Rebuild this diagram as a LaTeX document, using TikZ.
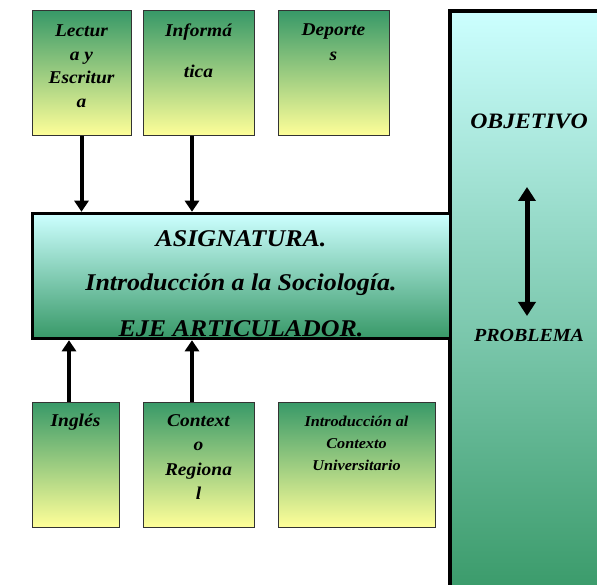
\documentclass[tikz,border=0pt]{standalone}
\usepackage{fontspec}
\setmainfont[FakeStretch=1.08]{Liberation Serif}
\usetikzlibrary{arrows.meta}
\definecolor{dgreen}{RGB}{56,153,104}
\definecolor{pyellow}{RGB}{255,255,153}
\definecolor{pcyan}{RGB}{204,255,255}
\tikzset{
  smallbox/.style={draw=black!80, line width=1pt, top color=dgreen, bottom color=pyellow, inner sep=0pt},
  boxtxt/.style={font=\fontsize{18}{24.5}\selectfont\bfseries\itshape, align=center, anchor=north, inner sep=0pt},
  smalltxt/.style={font=\fontsize{15}{22}\selectfont\bfseries\itshape, align=center, anchor=north, inner sep=0pt},
  maintxt/.style={font=\fontsize{24}{26}\selectfont\bfseries\itshape, inner sep=0pt, anchor=base},
  thickarrow/.style={line width=4pt, -{Triangle[width=14pt,length=11pt]}},
  dblarrow/.style={line width=5pt, {Triangle[width=17pt,length=14pt]}-{Triangle[width=17pt,length=14pt]}},
}
\begin{document}
\begin{tikzpicture}[x=1pt,y=-1pt]
\useasboundingbox (0,0) rectangle (597,585);
\clip (0,0) rectangle (597,585);
% right panel
\path[top color=pcyan, bottom color=dgreen] (450,11) rectangle (620,600);
\draw[line width=3.5pt] (620,11) -- (450,11) -- (450,600);
\node[font=\fontsize{22}{24}\selectfont\bfseries\itshape, inner sep=0pt] (obj) at (529,121) {OBJETIVO};
\node[font=\fontsize{18.5}{20}\selectfont\bfseries\itshape, inner sep=0pt] (prob) at (529,335) {PROBLEMA};
\coordinate (dtop) at (527,187);
\coordinate (dbot) at (527,316);
\draw[dblarrow] (dtop) -- (dbot);
% main box
\path[top color=pcyan, bottom color=dgreen] (33,214) rectangle (450,338);
\node[maintxt] (m1) at (241,247) {ASIGNATURA.};
\node[maintxt] (m2) at (241,291) {Introducción a la Sociología.};
\node[maintxt] (m3) at (241,337) {EJE ARTICULADOR.};
\node[draw, line width=3.5pt, minimum width=418pt, minimum height=125pt, inner sep=0pt] (main) at (241.5,276) {};
% top boxes
\node[smallbox, minimum width=99pt, minimum height=125pt] (lect) at (81.5,73.5) {};
\node[smallbox, minimum width=111pt, minimum height=125pt] (info) at (198.5,73.5) {};
\node[smallbox, minimum width=111pt, minimum height=125pt] (dep) at (333.5,73.5) {};
\node[boxtxt, font=\fontsize{18}{23.5}\selectfont\bfseries\itshape] (lectt) at (81.5,25) {Lectur\\a y\\Escritur\\a};
\node[boxtxt] (infot) at (198.5,24) {Informá\\[16pt]tica};
\node[boxtxt] (dept) at (333.5,24) {Deporte\\s};
% bottom boxes
\node[smallbox, minimum width=87pt, minimum height=125pt] (ing) at (75.5,464.5) {};
\node[smallbox, minimum width=111pt, minimum height=125pt] (ctx) at (198.5,464.5) {};
\node[smallbox, minimum width=157pt, minimum height=125pt] (intro) at (356.5,464.5) {};
\node[boxtxt] (ingt) at (75.5,414) {Inglés};
\node[boxtxt] (ctxt) at (198.5,414) {Context\\o\\Regiona\\l};
\node[smalltxt] (introt) at (356.5,416) {Introducción al\\Contexto\\Universitario};
% arrows
\draw[thickarrow] (lect.south) -- (lect.south |- main.north);
\draw[thickarrow] ([xshift=-6.5pt]info.south) -- ([xshift=-6.5pt]info.south |- main.north);
\draw[thickarrow] ([xshift=-6.5pt]ing.north) -- ([xshift=-6.5pt]ing.north |- main.south);
\draw[thickarrow] ([xshift=-6.5pt]ctx.north) -- ([xshift=-6.5pt]ctx.north |- main.south);
\end{tikzpicture}
\end{document}
